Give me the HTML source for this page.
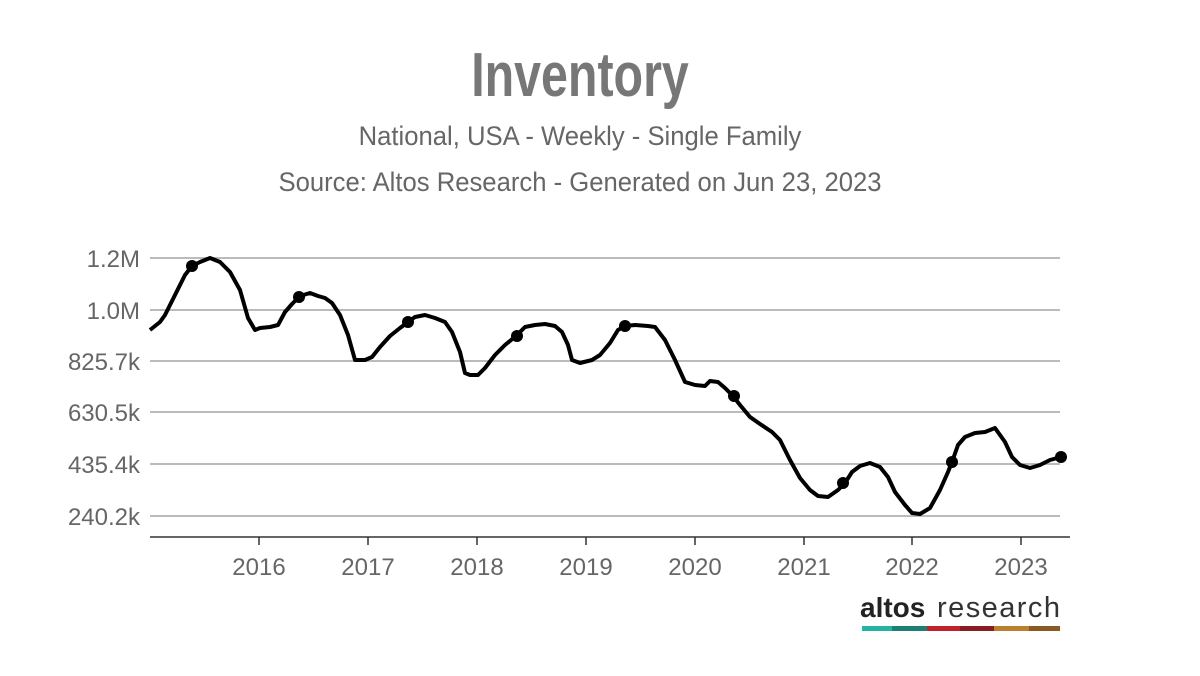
<!DOCTYPE html>
<html><head><meta charset="utf-8"><style>
body{margin:0;width:1200px;height:676px;background:#fff;overflow:hidden}
svg{display:block}
text{font-family:"Liberation Sans",sans-serif;fill:#666}
</style></head><body>
<svg width="1200" height="676" viewBox="0 0 1200 676">
<text x="580" y="96" text-anchor="middle" font-size="62" font-weight="bold" style="fill:#777" transform="translate(580 0) scale(0.78 1) translate(-580 0)">Inventory</text>
<text x="580" y="145" text-anchor="middle" font-size="27" transform="translate(580 0) scale(0.95 1) translate(-580 0)">National, USA - Weekly - Single Family</text>
<text x="580" y="191" text-anchor="middle" font-size="27" transform="translate(580 0) scale(0.95 1) translate(-580 0)">Source: Altos Research - Generated on Jun 23, 2023</text>
<g stroke="#bbb" stroke-width="2">
<line x1="150" x2="1060" y1="258" y2="258"/><line x1="150" x2="1060" y1="310" y2="310"/><line x1="150" x2="1060" y1="361" y2="361"/><line x1="150" x2="1060" y1="412" y2="412"/><line x1="150" x2="1060" y1="464" y2="464"/><line x1="150" x2="1060" y1="516" y2="516"/>
</g>
<g font-size="24" text-anchor="end">
<text x="140" y="267">1.2M</text><text x="140" y="319">1.0M</text><text x="140" y="370">825.7k</text><text x="140" y="421">630.5k</text><text x="140" y="473">435.4k</text><text x="140" y="525">240.2k</text>
</g>
<line x1="150" x2="1070" y1="537" y2="537" stroke="#333" stroke-width="1.5"/>
<g stroke="#333" stroke-width="1.5">
<line x1="259" x2="259" y1="537" y2="545"/><line x1="368" x2="368" y1="537" y2="545"/><line x1="477" x2="477" y1="537" y2="545"/><line x1="586" x2="586" y1="537" y2="545"/><line x1="695" x2="695" y1="537" y2="545"/><line x1="804" x2="804" y1="537" y2="545"/><line x1="912" x2="912" y1="537" y2="545"/><line x1="1021" x2="1021" y1="537" y2="545"/>
</g>
<g font-size="24" text-anchor="middle">
<text x="259" y="575">2016</text><text x="368" y="575">2017</text><text x="477" y="575">2018</text><text x="586" y="575">2019</text><text x="695" y="575">2020</text><text x="804" y="575">2021</text><text x="912" y="575">2022</text><text x="1021" y="575">2023</text>
</g>
<polyline fill="none" stroke="#000" stroke-width="4" stroke-linejoin="round" points="150,330 160,322 165,315 175,295 185,275 192,266 200,262 210,258 220,262 230,272 240,290 248,318 255,330 260,328 270,327 278,325 285,312 292,304 300,296 310,293 318,296 325,298 332,303 340,315 348,335 355,360 365,360 372,357 380,347 390,336 400,328 408,322 415,317 425,315 435,318 445,322 452,332 460,352 465,373 470,375 478,375 485,368 495,355 505,345 516,336 525,327 535,325 545,324 555,326 562,332 568,345 572,360 580,363 592,360 600,355 610,343 618,330 625,326 635,325 648,326 655,327 665,340 675,360 685,382 695,385 705,386 710,381 718,382 725,388 733,396 740,405 750,417 760,424 772,432 780,440 790,460 800,478 810,490 818,496 828,497 838,490 845,483 852,472 860,466 870,463 880,467 888,477 895,492 905,505 912,513 920,514 930,508 940,490 948,472 952,462 958,445 965,437 975,433 985,432 995,428 1005,442 1012,457 1020,465 1030,468 1040,465 1050,460 1061,457"/>
<g fill="#000">
<circle cx="192" cy="266" r="6"/><circle cx="299" cy="297" r="6"/><circle cx="408" cy="322" r="6"/><circle cx="517" cy="336" r="6"/><circle cx="625" cy="326" r="6"/><circle cx="734" cy="396" r="6"/><circle cx="843" cy="483" r="6"/><circle cx="952" cy="462" r="6"/><circle cx="1061" cy="457" r="6"/>
</g>
<text x="860" y="617" font-size="28" style="fill:#222" font-weight="bold">altos</text>
<text x="937" y="617" font-size="29" style="fill:#333" textLength="123">research</text>
<rect x="862" y="626" width="30" height="5" fill="#25b3a4"/>
<rect x="892" y="626" width="35" height="5" fill="#1e7f74"/>
<rect x="927" y="626" width="33" height="5" fill="#c0222e"/>
<rect x="960" y="626" width="34" height="5" fill="#8a1c23"/>
<rect x="994" y="626" width="35" height="5" fill="#bc7f2e"/>
<rect x="1029" y="626" width="31" height="5" fill="#8a5a23"/>
</svg>
</body></html>
